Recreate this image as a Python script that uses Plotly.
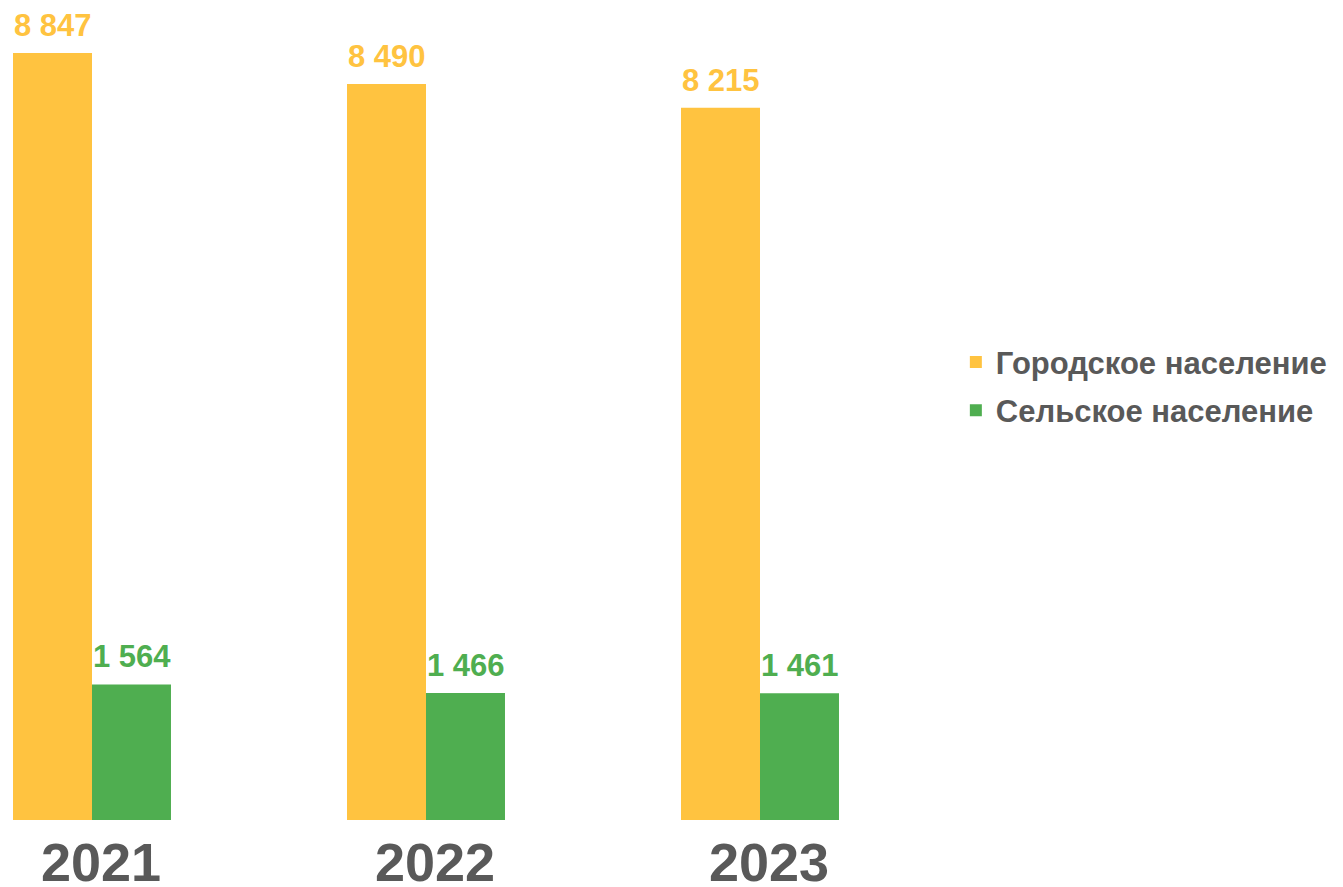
import plotly.graph_objects as go

years = ["2021", "2022", "2023"]
urban = [8847, 8490, 8215]
rural = [1564, 1466, 1461]
series_names = ["Городское население", "Сельское население"]
colors = ["#FFC340", "#4FAE50"]

fig = go.Figure()
for i, (name, vals) in enumerate(zip(series_names, [urban, rural])):
    fig.add_trace(go.Bar(
        x=years, y=vals, name=name, marker_color=colors[i], marker_line_width=0,
        legendgroup=name,
    ))

# value labels above each bar (category index on the x axis, value on the y axis)
bar_offsets = [-39.5, 39.5]
for i, vals in enumerate([urban, rural]):
    for j, v in enumerate(vals):
        fig.add_annotation(
            x=j, y=v, xref="x", yref="y", xshift=bar_offsets[i], yshift=8,
            yanchor="bottom", xanchor="center", showarrow=False,
            text="<b>" + f"{v:,}".replace(",", " ") + "</b>",
            font=dict(family="Liberation Sans", size=31, color=colors[i]),
        )

W, H = 1335, 879
plot_h = 812
px_per_cat = 334
a = -84 / px_per_cat
b = a + W / px_per_cat
ymax = plot_h / (767 / 8847)

fig.update_layout(
    width=W, height=H,
    margin=dict(l=0, r=0, t=0, b=H - plot_h, pad=0, autoexpand=False),
    paper_bgcolor="white", plot_bgcolor="white",
    barmode="group", bargap=0.527, bargroupgap=0,
    showlegend=True,
    legend=dict(x=0.710, y=0.534, xanchor="left", yanchor="middle",
                font=dict(family="Liberation Sans", size=31, color="#595959", weight="bold"),
                tracegroupgap=5, traceorder="grouped", bgcolor="rgba(0,0,0,0)"),
    xaxis=dict(type="category", range=[a, b], showgrid=False, zeroline=False, showline=False,
               automargin=False,
               ticks="", tickfont=dict(family="Liberation Sans", size=54, color="#595959", weight="bold"),
               ticklabelshift=9, ticklabelstandoff=6),
    yaxis=dict(range=[0, ymax], visible=False, automargin=False),
)

fig.write_html("out.html")
